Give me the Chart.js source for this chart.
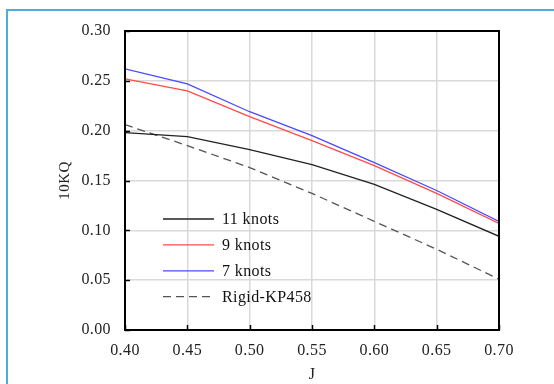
<!DOCTYPE html>
<html>
<head>
<meta charset="utf-8">
<script src="https://cdn.jsdelivr.net/npm/chart.js@4.4.1/dist/chart.umd.min.js"></script>
<style>
  body { margin: 0; background: #fff; }
  #wrap { position: relative; width: 554px; height: 384px; }
  #frame {
    position: absolute; left: 6px; top: 9px; right: 0; bottom: 0;
    border-top: 2px solid #4aafe0; border-left: 2px solid #4aafe0;
    pointer-events: none;
  }
</style>
</head>
<body>
<div id="wrap">
  <canvas id="myChart" width="554" height="384"></canvas>
  <div id="frame"></div>
</div>
<script>
// advance ratio J
let jValues = [0.40, 0.45, 0.50, 0.55, 0.60, 0.65, 0.70];

// 10KQ for each speed
let kq11 = [0.198, 0.194, 0.181, 0.166, 0.146, 0.121, 0.094];
let kq9 = [0.252, 0.240, 0.214, 0.190, 0.165, 0.137, 0.107];
let kq7 = [0.262, 0.247, 0.219, 0.195, 0.168, 0.140, 0.109];
let kqRigid = [0.206, 0.185, 0.163, 0.137, 0.109, 0.081, 0.051];

let names = ['11 knots', '9 knots', '7 knots', 'Rigid-KP458'];

function pairs(ys) {
    return jValues.map(function (j, i) {
        return {x: j, y: ys[i]};
    });
}

let serif = 'Liberation Serif, Times New Roman, serif';

// slightly wider text spacing for all labels
let spacing = {
    id: 'spacing',
    beforeDraw: function (chart) {
        chart.ctx.letterSpacing = '0.4px';
    }
};

// box around the plot + short inward ticks on left and bottom
let frameBox = {
    id: 'frameBox',
    afterDraw: function (chart) {
        let ctx = chart.ctx;
        let a = chart.chartArea;
        let xs = chart.scales.x;
        let ys = chart.scales.y;
        ctx.save();
        ctx.strokeStyle = '#000';
        ctx.lineWidth = 1.5;
        ys.ticks.forEach(function (t) {
            let py = Math.round(ys.getPixelForValue(t.value)) + 0.5;
            ctx.beginPath();
            ctx.moveTo(a.left, py);
            ctx.lineTo(a.left + 5, py);
            ctx.stroke();
        });
        xs.ticks.forEach(function (t) {
            let px = Math.round(xs.getPixelForValue(t.value)) + 0.5;
            ctx.beginPath();
            ctx.moveTo(px, a.bottom);
            ctx.lineTo(px, a.bottom - 5);
            ctx.stroke();
        });
        ctx.lineWidth = 2;
        ctx.strokeRect(a.left, a.top, a.right - a.left, a.bottom - a.top);
        ctx.restore();
    }
};

// legend drawn inside the plot, lower left
let innerLegend = {
    id: 'innerLegend',
    afterDatasetsDraw: function (chart) {
        let ctx = chart.ctx;
        ctx.save();
        ctx.font = '16px ' + serif;
        ctx.textBaseline = 'middle';
        chart.data.datasets.forEach(function (ds, i) {
            let y = 219 + i * 25.9;
            ctx.strokeStyle = ds.borderColor;
            ctx.lineWidth = ds.borderWidth;
            ctx.setLineDash(ds.borderDash || []);
            ctx.beginPath();
            ctx.moveTo(163, y);
            ctx.lineTo(214, y);
            ctx.stroke();
            ctx.setLineDash([]);
            ctx.fillStyle = '#111';
            ctx.fillText(ds.label, 222, y + 1);
        });
        ctx.restore();
    }
};

let ctx = document.getElementById('myChart').getContext('2d');
let chart = new Chart(ctx, {
    type: 'line',
    data: {
        datasets: [
            {label: names[0], data: pairs(kq11), borderColor: '#222222', borderWidth: 1.3},
            {label: names[1], data: pairs(kq9), borderColor: '#ff4a4a', borderWidth: 1.3},
            {label: names[2], data: pairs(kq7), borderColor: '#4a4aff', borderWidth: 1.3},
            {label: names[3], data: pairs(kqRigid), borderColor: '#555555', borderWidth: 1.3, borderDash: [8, 5]}
        ]
    },
    options: {
        responsive: false,
        animation: false,
        devicePixelRatio: 1,
        elements: {point: {radius: 0}, line: {tension: 0}},
        layout: {padding: {left: 0, top: 31, right: 55, bottom: 0}},
        plugins: {legend: {display: false}, tooltip: {enabled: false}},
        scales: {
            x: {
                type: 'linear',
                min: 0.40,
                max: 0.70,
                afterFit: function (s) { s.height = 54; },
                ticks: {
                    stepSize: 0.05,
                    padding: 11,
                    color: '#222',
                    font: {family: serif, size: 16},
                    callback: function (v) { return v.toFixed(2); }
                },
                grid: {color: '#d9d9d9', lineWidth: 1.5, drawTicks: false},
                border: {display: false},
                title: {display: true, text: 'J', color: '#222', font: {family: serif, size: 16}, padding: {top: 0, bottom: 0}}
            },
            y: {
                min: 0,
                max: 0.30,
                afterFit: function (s) { s.width = 125; },
                ticks: {
                    stepSize: 0.05,
                    padding: 14,
                    color: '#222',
                    font: {family: serif, size: 16},
                    callback: function (v) { return v.toFixed(2); }
                },
                grid: {color: '#d9d9d9', lineWidth: 1.5, drawTicks: false},
                border: {display: false},
                title: {display: true, text: '10KQ', color: '#222', font: {family: serif, size: 15}, padding: {top: 56, bottom: 0}}
            }
        }
    },
    plugins: [spacing, frameBox, innerLegend]
});
</script>
</body>
</html>
